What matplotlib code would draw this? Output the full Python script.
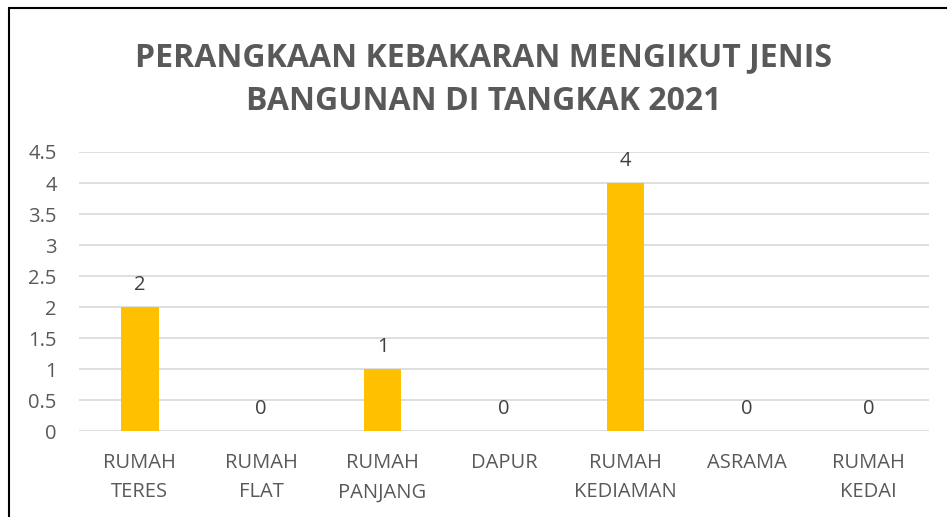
import matplotlib.pyplot as plt
from matplotlib.patches import Rectangle

categories = ["RUMAH\nTERES", "RUMAH\nFLAT", "RUMAH\nPANJANG", "DAPUR",
              "RUMAH\nKEDIAMAN", "ASRAMA", "RUMAH\nKEDAI"]
counts = [2, 0, 1, 0, 4, 0, 0]
yticks = [0, 0.5, 1, 1.5, 2, 2.5, 3, 3.5, 4, 4.5]

plt.rcParams['font.family'] = ['Open Sans', 'DejaVu Sans']
grey = '#595959'

fig = plt.figure(figsize=(9.47, 5.17), dpi=100)
ax = fig.add_axes([0.0834, 0.1663, 0.8976, 0.5397])

x = range(len(categories))
bars = ax.bar(x, counts, width=0.31, color='#FFC000', zorder=3)
for xi, v in zip(x, counts):
    ax.text(xi, v + 0.2, str(v), ha='center', va='bottom', fontsize=14.5, color='#404040')

ax.set_xlim(-0.5, len(categories) - 0.5)
ax.set_ylim(0, 4.5)
ax.set_yticks(yticks)
ax.set_yticklabels(['0', '0.5', '1', '1.5', '2', '2.5', '3', '3.5', '4', '4.5'])
ax.set_xticks(list(x))
ax.set_xticklabels(categories, linespacing=1.6)
ax.tick_params(axis='both', length=0, labelsize=14.5, labelcolor=grey)
ax.tick_params(axis='x', pad=16)
ax.tick_params(axis='y', pad=16)
ax.grid(axis='y', color='#d9d9d9', linewidth=1.2, zorder=0)
for s in ax.spines.values():
    s.set_visible(False)

fig.text(0.511, 0.846, "PERANGKAAN KEBAKARAN MENGIKUT JENIS\nBANGUNAN DI TANGKAK 2021",
         ha='center', va='center', fontsize=23, fontweight='bold', color=grey, linespacing=1.45)

# chart frame (only left/top visible in the crop)
fig.patches.append(Rectangle((9 / 947, -0.1), 1.2, 1 - 8 / 517 + 0.1, transform=fig.transFigure,
                             fill=False, edgecolor='black', linewidth=1.5))

fig.savefig('out.png', dpi=100)
